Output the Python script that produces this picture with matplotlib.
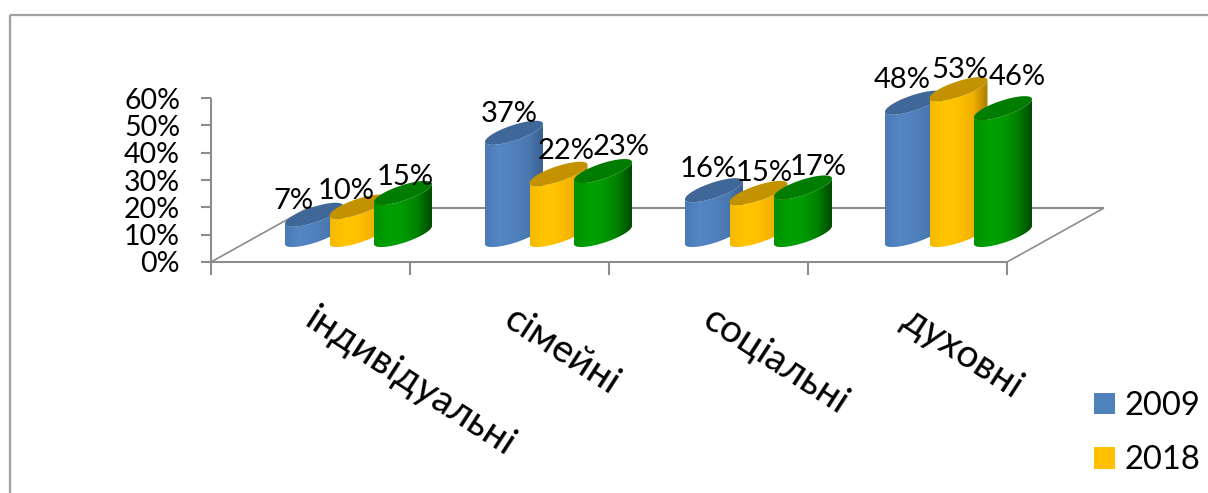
import numpy as np
import matplotlib
matplotlib.use("Agg")
import matplotlib.pyplot as plt
from matplotlib.colors import LinearSegmentedColormap
from matplotlib.patches import Patch, Polygon

plt.rcParams['font.family'] = ['Lato', 'Noto Sans', 'DejaVu Sans']

categories = ['індивідуальні', 'сімейні', 'соціальні', 'духовні']
y_ticks = [0, 10, 20, 30, 40, 50, 60]
values_2009 = [7, 37, 16, 48]
values_2018 = [10, 22, 15, 53]
values_third = [15, 23, 17, 46]
series_names = ['2009', '2018']

# x is in category units, y in percent, so 1 px is PX / PY of data
PX = 1 / 199.0
PY = 1 / 2.733
W, H = 1208, 493
GRAY = '#8c8c8c'

fig = plt.figure(figsize=(W / 100, H / 100), dpi=100)
ax = fig.add_axes([0, 0, 1, 1])
ax.axis('off')
xlim = (-211 * PX, (W - 211) * PX)
ylim = (-(H - 262) * PY, 262 * PY)


def line(xs, ys, lw=1.5, color=GRAY):
    ax.plot(xs, ys, color=color, lw=lw, solid_capstyle='butt', zorder=1)


# floor and axes
n = len(categories)
depth_x = 97 * PX
depth_y = 54 * PY
line([0, 0], [0, 60])
line([0, n], [0, 0])
line([0, depth_x], [0, depth_y], lw=1.2)
line([depth_x, n + depth_x], [depth_y, depth_y], lw=1.5)
line([n, n + depth_x], [0, depth_y], lw=1.2)
for t in y_ticks:
    line([-10 * PX, 0], [t, t])
    ax.text(-31 * PX, t - 2.5 * PY, f'{t}%', ha='right', va='center', fontsize=20.5)
for i in range(n + 1):
    line([i, i], [0, -13 * PY])

# outer frame, cut off by the picture on two sides
line([9.5 * PX + xlim[0]] * 2, [ylim[0], ylim[1] - 15 * PY], lw=1.6, color='#a0a0a0')
line([9.5 * PX + xlim[0], xlim[1]], [ylim[1] - 15 * PY] * 2, lw=1.6, color='#a0a0a0')

# cylinders
BAR_W = 58 * PX
BAR_STEP = 44.5 * PX
GROUP_STEP = 200 * PX
FIRST = 74 * PX
SHEAR = 18 * PY
THICK = 8 * PY
BASE = 18 * PY


def cylinder(x0, v, cols, top_col, z):
    a = BAR_W / 2
    cx = x0 + a
    t = np.linspace(np.pi, 2 * np.pi, 40)
    y_bot = BASE + SHEAR / 2
    y_top = y_bot + v + 0.4
    ex = cx + a * np.cos(t)
    shift = (SHEAR / 2) * np.cos(t) + THICK * np.sin(t)
    body = np.vstack([
        np.column_stack([ex, y_top + shift]),
        np.column_stack([ex[::-1], y_bot + shift[::-1]]),
    ])
    clip = Polygon(body, closed=True, transform=ax.transData, fc='none', ec='none')
    ax.add_patch(clip)
    cmap = LinearSegmentedColormap.from_list('c', cols)
    im = ax.imshow(np.linspace(0, 1, 128).reshape(1, -1), cmap=cmap, aspect='auto',
                   extent=(x0, x0 + BAR_W, y_bot - THICK - SHEAR, y_top + SHEAR),
                   zorder=z)
    im.set_clip_path(clip)
    tt = np.linspace(0, 2 * np.pi, 80)
    top = np.column_stack([cx + a * np.cos(tt),
                           y_top + (SHEAR / 2) * np.cos(tt) + THICK * np.sin(tt)])
    ax.add_patch(Polygon(top, closed=True, fc=top_col, ec='none', zorder=z + 0.1))
    return y_top - SHEAR / 2


blue = ['#4a7ab5', '#5486c4', '#4f81bd', '#4a78b0', '#3a6090']
yellow = ['#f5b800', '#ffc600', '#ffc000', '#f0b000', '#a87c00']
green = ['#009000', '#00a000', '#009a00', '#008000', '#004a00']
series = [
    (values_2009, blue, '#3f6797', 17),
    (values_2018, yellow, '#c29200', 30),
    (values_third, green, '#007c00', 42),
]
# hand nudges of the value labels in px, per series then per category
nudge_x = [[-9, 7, 6, 0], [-13, 7, 5, 0], [-11, 5, 2, 1]]
nudge_y = [[-10, -5, -3, -1], [-8, -1, -4, -5], [-8, 0, -4, 7]]

z = 3
for i in range(n):
    for k, (vals, cols, top_col, label_dx) in enumerate(series):
        x0 = i * GROUP_STEP + FIRST + k * BAR_STEP
        left_top = cylinder(x0, vals[i], cols, top_col, z)
        z += 1
        ax.text(x0 + (label_dx + nudge_x[k][i]) * PX,
                left_top + (33 + nudge_y[k][i]) * PY, f'{vals[i]}%', ha='center',
                va='center', fontsize=21, zorder=100)

# category labels
for i, c in enumerate(categories):
    ax.text(i + 0.49, -54 * PY, c, rotation=-33, rotation_mode='anchor', ha='left',
            va='center', fontsize=28, zorder=100)

handles = [Patch(fc=blue[2], label=series_names[0]), Patch(fc=yellow[2], label=series_names[1])]
ax.legend(handles=handles, loc='upper left', bbox_to_anchor=(1094 / W, 1 - 391 / H),
          frameon=False, fontsize=23.5, handlelength=0.65, handleheight=0.65,
          handletextpad=0.27, labelspacing=0.74, borderpad=0, borderaxespad=0)

ax.set_xlim(xlim)
ax.set_ylim(ylim)
fig.savefig('out.png', dpi=100)
